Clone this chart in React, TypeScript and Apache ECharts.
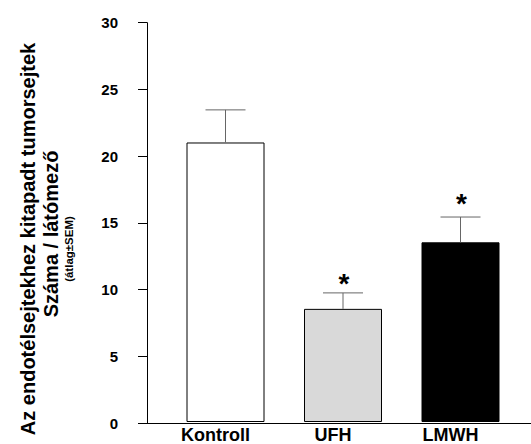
import React, { useEffect, useRef } from "react";
import * as echarts from "echarts";

const categories = ["Kontroll", "UFH", "LMWH"];
const means = [21.0, 8.5, 13.5];
const sems = [2.45, 1.2, 1.9];
const starLevels: (number | null)[] = [null, 10.85, 16.9];
const barColors = ["#ffffff", "#d9d9d9", "#000000"];
const yTicks = { min: 0, max: 30, interval: 5 };
const titleLines = [
  "Az endotélsejtekhez kitapadt tumorsejtek",
  "Száma / látómező",
  "(átlag±SEM)",
];

const FONT = "'Liberation Sans', Arial, Helvetica, sans-serif";

export default function App() {
  const ref = useRef<HTMLDivElement>(null);
  useEffect(() => {
    if (!ref.current) return;
    const chart = echarts.init(ref.current, null, { renderer: "svg" });
    const top = 22.7;
    const bottom = 21;
    chart.setOption({
      animation: false,
      backgroundColor: "#ffffff",
      grid: [
        { left: 166.75, right: 11.75, top, bottom },
        { left: 147, right: 0, top, bottom },
      ],
      xAxis: [
        {
          type: "category",
          gridIndex: 0,
          data: categories,
          axisLine: { show: false },
          axisTick: { show: false },
          axisLabel: {
            color: "#000",
            fontFamily: FONT,
            fontWeight: "bold",
            fontSize: 18,
            margin: 4,
            padding: [0, 20, 0, 0],
          },
        },
        {
          type: "value",
          gridIndex: 1,
          min: 0,
          max: 1,
          axisLine: { show: true, lineStyle: { color: "#000", width: 1 } },
          axisTick: { show: false },
          axisLabel: { show: false },
          splitLine: { show: false },
        },
      ],
      yAxis: [
        {
          type: "value",
          gridIndex: 0,
          min: yTicks.min,
          max: yTicks.max,
          interval: yTicks.interval,
          show: false,
          splitLine: { show: false },
        },
        {
          type: "value",
          gridIndex: 1,
          min: yTicks.min,
          max: yTicks.max,
          interval: yTicks.interval,
          axisLine: { show: true, lineStyle: { color: "#000", width: 1 } },
          axisTick: { show: true, length: 9, lineStyle: { color: "#000" } },
          axisLabel: {
            color: "#000",
            fontFamily: FONT,
            fontWeight: "bold",
            fontSize: 15,
            margin: 29,
          },
          splitLine: { show: false },
        },
      ],
      series: [
        {
          type: "bar",
          xAxisIndex: 0,
          yAxisIndex: 0,
          barWidth: 78,
          data: means.map((v, i) => ({
            value: v,
            itemStyle: { color: barColors[i], borderColor: "#000", borderWidth: 1 },
          })),
        },
        {
          type: "custom",
          xAxisIndex: 0,
          yAxisIndex: 0,
          data: means.map((m, i) => [i, m, sems[i]]),
          renderItem: (params: any, api: any) => {
            const i = api.value(0);
            const m = api.value(1);
            const s = api.value(2);
            const p0 = api.coord([i, m]);
            const p1 = api.coord([i, m + s]);
            const half = 20;
            const st = { stroke: "#666", lineWidth: 1, fill: "none" };
            return {
              type: "group",
              children: [
                { type: "line", shape: { x1: p0[0], y1: p0[1], x2: p1[0], y2: p1[1] }, style: st },
                { type: "line", shape: { x1: p1[0] - half, y1: p1[1], x2: p1[0] + half, y2: p1[1] }, style: st },
              ],
            };
          },
          z: 3,
        },
        {
          type: "custom",
          xAxisIndex: 0,
          yAxisIndex: 0,
          data: starLevels
            .map((v, i) => (v == null ? null : [i, v]))
            .filter((d) => d != null),
          renderItem: (params: any, api: any) => {
            const p = api.coord([api.value(0), api.value(1)]);
            return {
              type: "text",
              x: p[0] + 1,
              y: p[1] + 6,
              style: {
                text: "*",
                fill: "#000",
                font: `bold 28px ${FONT}`,
                align: "center",
                verticalAlign: "middle",
              },
            };
          },
          z: 4,
        },
      ],
      graphic: [
        {
          type: "text",
          x: 28,
          y: 239,
          rotation: Math.PI / 2,
          style: {
            text: titleLines[0],
            fill: "#000",
            font: `bold 20px ${FONT}`,
            align: "center",
            verticalAlign: "middle",
          },
        },
        {
          type: "text",
          x: 51,
          y: 234,
          rotation: Math.PI / 2,
          style: {
            text: titleLines[1],
            fill: "#000",
            font: `bold 20px ${FONT}`,
            align: "center",
            verticalAlign: "middle",
          },
        },
        {
          type: "text",
          x: 69,
          y: 249,
          rotation: Math.PI / 2,
          style: {
            text: titleLines[2],
            fill: "#000",
            font: `bold 11.5px ${FONT}`,
            align: "center",
            verticalAlign: "middle",
          },
        },
      ],
    });
    return () => chart.dispose();
  }, []);
  return (
    <div
      ref={ref}
      style={{ position: "fixed", left: 0, top: 0, width: 531, height: 444, background: "#fff" }}
    />
  );
}
